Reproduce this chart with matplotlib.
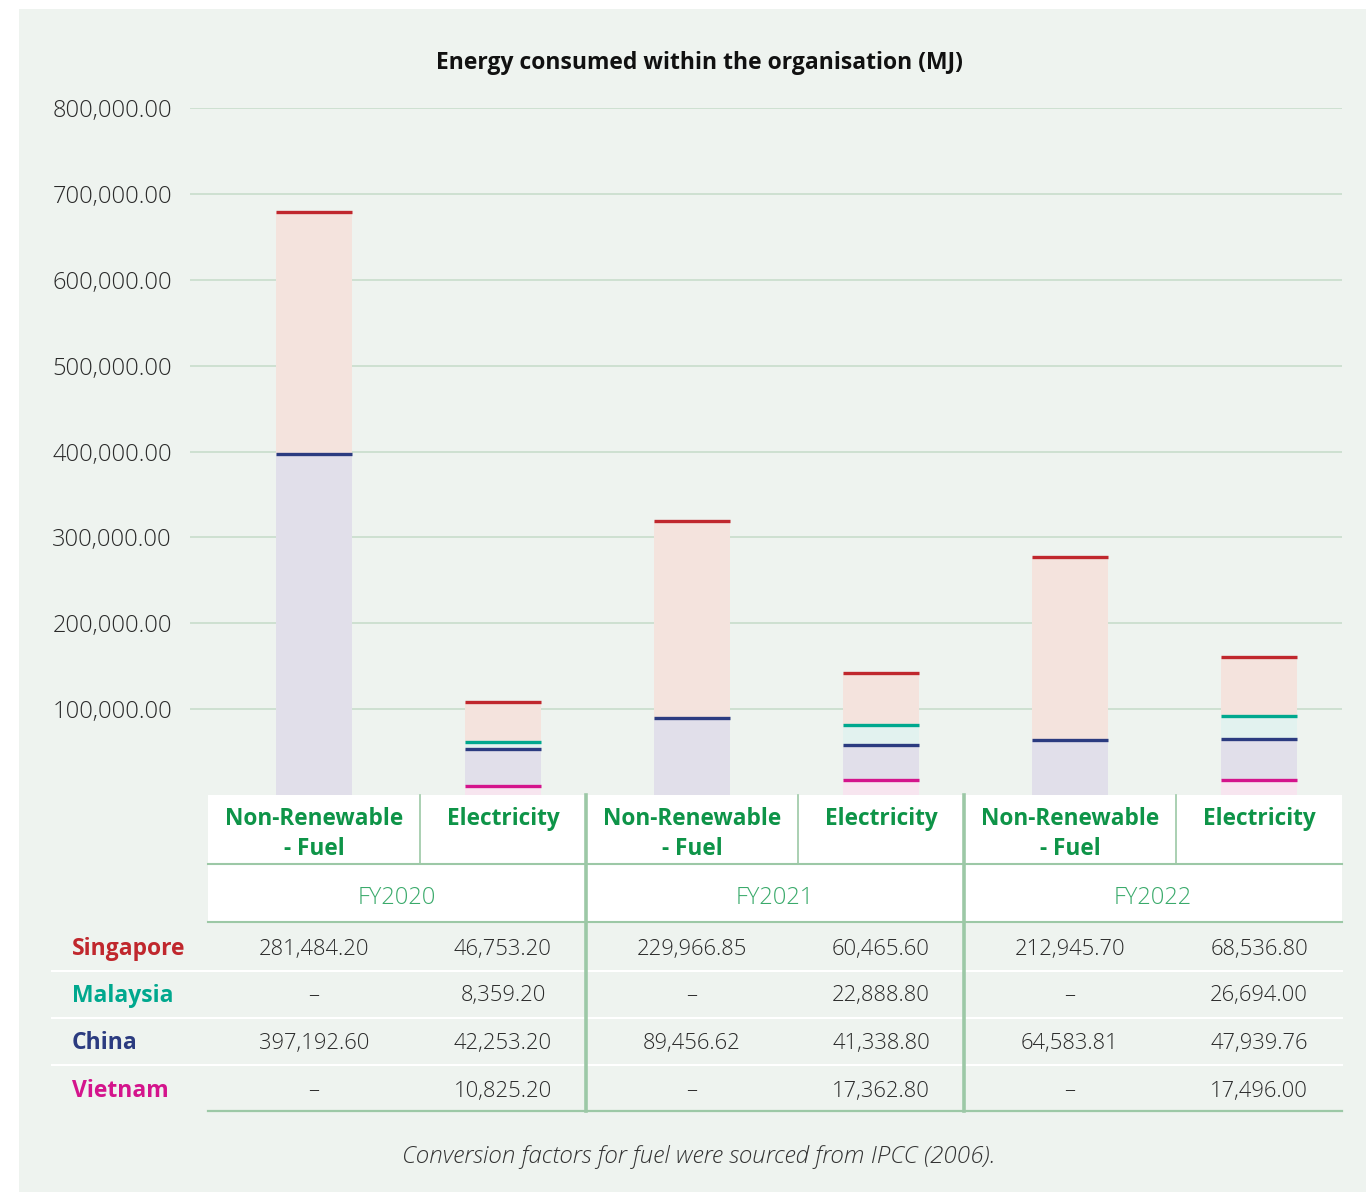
import numpy as np
import matplotlib; matplotlib.use("Agg")
import matplotlib.pyplot as plt
from matplotlib.patches import Rectangle

# ---------- data ----------
years = ["FY2020", "FY2021", "FY2022"]
kinds = ["Non-Renewable\n- Fuel", "Electricity"]
countries = ["Singapore", "Malaysia", "China", "Vietnam"]
# one value per bar: FY2020 fuel, FY2020 elec, FY2021 fuel, FY2021 elec, FY2022 fuel, FY2022 elec
singapore = [281484.20, 46753.20, 229966.85, 60465.60, 212945.70, 68536.80]
malaysia = [0, 8359.20, 0, 22888.80, 0, 26694.00]
china = [397192.60, 42253.20, 89456.62, 41338.80, 64583.81, 47939.76]
vietnam = [0, 10825.20, 0, 17362.80, 0, 17496.00]
cells = {
    "Singapore": ["281,484.20", "46,753.20", "229,966.85", "60,465.60", "212,945.70", "68,536.80"],
    "Malaysia": ["–", "8,359.20", "–", "22,888.80", "–", "26,694.00"],
    "China": ["397,192.60", "42,253.20", "89,456.62", "41,338.80", "64,583.81", "47,939.76"],
    "Vietnam": ["–", "10,825.20", "–", "17,362.80", "–", "17,496.00"],
}
yticks = [100000, 200000, 300000, 400000, 500000, 600000, 700000, 800000]

# ---------- style ----------
line_col = {"Singapore": "#C0272D", "Malaysia": "#00A88E", "China": "#2B3B80", "Vietnam": "#D4148C"}
fill_col = {"Singapore": "#F4E3DD", "Malaysia": "#E2F2EF", "China": "#E1DFEA", "Vietnam": "#F7E5EF"}
PANEL = "#EEF3EF"
GRID = "#C8DDCB"
TGREEN = "#9CC8A6"
HEAD = "#0E9448"
FYC = "#3AAA6B"
plt.rcParams['font.family'] = ['Open Sans', 'DejaVu Sans']

W, H = 1366, 1194
fig = plt.figure(figsize=(W/100, H/100), dpi=100)
fig.patch.set_facecolor("white")

bg = fig.add_axes([0, 0, 1, 1], zorder=0)
bg.set_xlim(0, W); bg.set_ylim(H, 0); bg.axis("off")
bg.add_patch(Rectangle((19, 9), W-19, 1183, color=PANEL, lw=0))

# column edges (pixels) for the table and the bars above it
edges = [208, 420, 586, 798, 964, 1176, 1342]
centers = [(edges[i] + edges[i+1]) / 2 for i in range(6)]
x_left, y_top, y_zero = 190, 108, 795

ax = fig.add_axes([x_left/W, 1 - y_zero/H, (edges[-1]-x_left)/W, (y_zero-y_top)/H], zorder=1)
ax.set_facecolor("none")
ax.set_xlim(x_left, edges[-1]); ax.set_ylim(0, 800000)
for s in ax.spines.values():
    s.set_visible(False)
ax.set_yticks(yticks)
ax.set_yticklabels([f"{v:,.2f}" for v in yticks], fontsize=17, color="#2a2a2a", fontweight="light")
ax.tick_params(axis="y", length=0, pad=13)
ax.set_xticks([])
ax.grid(axis="y", color=GRID, lw=1.2)
ax.set_axisbelow(True)

bw = 76
series = {"Vietnam": vietnam, "China": china, "Malaysia": malaysia, "Singapore": singapore}
bottom = np.zeros(6)
for name in ["Vietnam", "China", "Malaysia", "Singapore"]:
    vals = np.array(series[name])
    ax.bar(centers, vals, width=bw, bottom=bottom, color=fill_col[name], lw=0, zorder=2)
    tops = bottom + vals
    for c, v, t in zip(centers, vals, tops):
        if v > 0:
            ax.hlines(t, c - bw/2, c + bw/2, color=line_col[name], lw=2.4, zorder=3)
    bottom = tops

fig.text(699/W, 1 - 63/H, "Energy consumed within the organisation (MJ)", ha="center", va="center",
         fontsize=16.5, fontweight="bold", color="#111111")

# ---------- table ----------
tb = fig.add_axes([0, 0, 1, 1], zorder=2)
tb.set_xlim(0, W); tb.set_ylim(H, 0); tb.axis("off")
tb.add_patch(Rectangle((edges[0], 795), edges[-1]-edges[0], 922-795, color="white", lw=0))
for i in range(6):
    if i % 2 == 0:
        tb.text(centers[i], 834, kinds[0], ha="center", va="center", fontsize=16.3,
                fontweight="bold", color=HEAD, linespacing=1.3)
    else:
        tb.text(centers[i], 819, kinds[1], ha="center", va="center", fontsize=16.3,
                fontweight="bold", color=HEAD)
for g in range(3):
    tb.text((edges[2*g] + edges[2*g+2]) / 2, 898, years[g], ha="center", va="center",
            fontsize=17, color=FYC, fontweight="light")
    tb.plot([edges[2*g+1]]*2, [795, 864], color=TGREEN, lw=1.2)
tb.plot([edges[0], edges[-1]], [864, 864], color=TGREEN, lw=1.5)
tb.plot([edges[0], edges[-1]], [922, 922], color=TGREEN, lw=1.5)

row_y = [947, 994, 1041, 1089]
for k in range(1, 4):
    yy = (row_y[k-1] + row_y[k]) / 2
    tb.plot([52, edges[-1]], [yy, yy], color="white", lw=1.5)
tb.plot([edges[0], edges[-1]], [1111, 1111], color=TGREEN, lw=1.6)
for xx in (edges[2], edges[4]):
    tb.plot([xx, xx], [795, 1111], color=TGREEN, lw=2.6)

for r, name in enumerate(countries):
    tb.text(72, row_y[r] + 2, name, ha="left", va="center", fontsize=16.5, fontweight="bold",
            color=line_col[name])
    for i in range(6):
        tb.text(centers[i], row_y[r] + 2, cells[name][i], ha="center", va="center",
                fontsize=15.8, color="#2a2a2a", fontweight="light")

tb.text(699, 1157, "Conversion factors for fuel were sourced from IPCC (2006).", ha="center",
        va="center", fontsize=17.5, style="italic", color="#333333", fontweight="light")

fig.savefig("out.png", dpi=100, facecolor=fig.get_facecolor())
